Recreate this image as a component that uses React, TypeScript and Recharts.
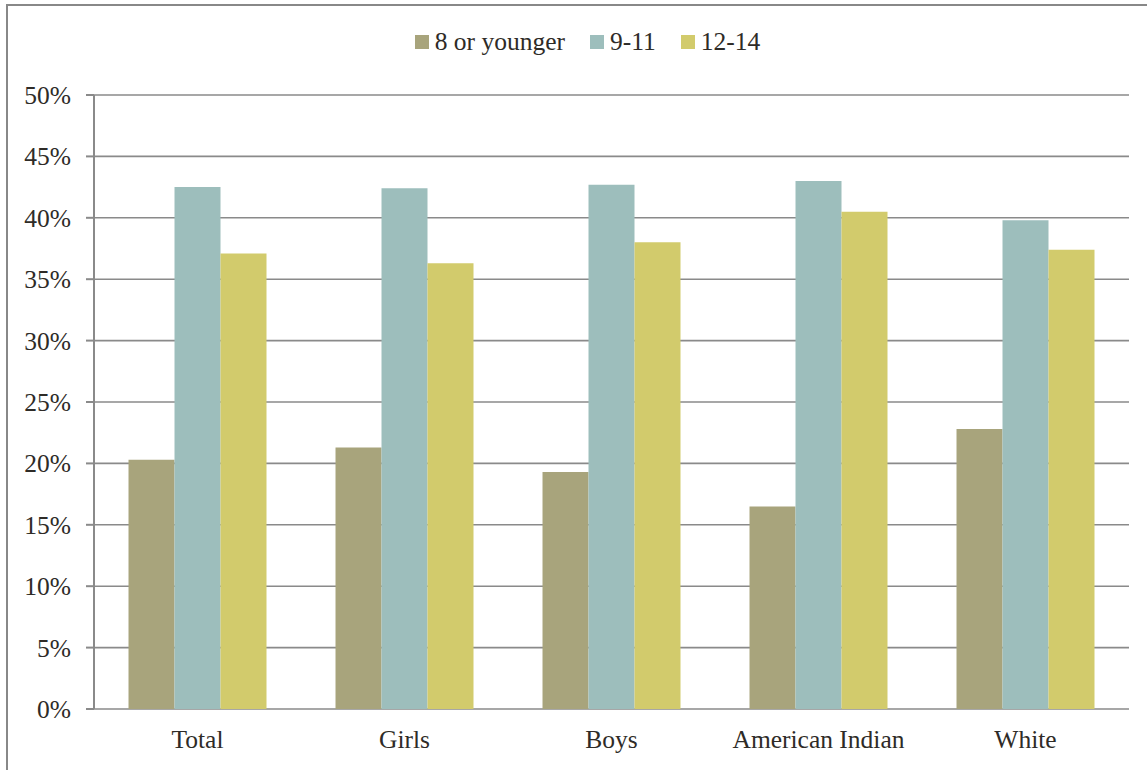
import React from "react";
import { BarChart, Bar, XAxis, YAxis, CartesianGrid, Legend } from "recharts";

const categories = ["Total", "Girls", "Boys", "American Indian", "White"];
const age8OrYounger = [20.3, 21.3, 19.3, 16.5, 22.8];
const age9to11 = [42.5, 42.4, 42.7, 43.0, 39.8];
const age12to14 = [37.1, 36.3, 38.0, 40.5, 37.4];
const yTicks = [0, 5, 10, 15, 20, 25, 30, 35, 40, 45, 50];
const boundaryTicks = [0, 1, 2, 3, 4, 5];

const seriesNames = ["8 or younger", "9-11", "12-14"];
const colors = ["#A8A47C", "#9DBEBC", "#D2CB6C"];

const data = categories.map((c, i) => ({
  name: c,
  a: age8OrYounger[i],
  b: age9to11[i],
  c: age12to14[i],
}));

const FONT = "'Liberation Serif', 'Times New Roman', serif";
const TEXT = "#2e2b27";
const GRID = "#8a8a8a";
const FS = 25.5;

const renderLegend = (props: any) => {
  const payload = [...(props.payload || [])].sort(
    (p: any, q: any) => seriesNames.indexOf(p.value) - seriesNames.indexOf(q.value)
  );
  return (
    <div style={{ display: "flex", justifyContent: "center", gap: 25, paddingLeft: 28, fontFamily: FONT, fontSize: FS, color: TEXT, lineHeight: "30px" }}>
      {payload.map((p: any, i: number) => (
        <div key={i} style={{ display: "flex", alignItems: "center" }}>
          <span style={{ display: "inline-block", width: 14, height: 14, background: p.color, marginRight: 6 }} />
          <span>{p.value}</span>
        </div>
      ))}
    </div>
  );
};

export default function App() {
  return (
    <div style={{ position: "absolute", left: 0, top: 0, width: 1147, height: 770, overflow: "hidden", background: "#fff" }}>
      <div style={{ position: "absolute", left: 6, top: 4, width: 1200, height: 820, border: "2px solid #888", boxSizing: "border-box" }} />
      <div style={{ position: "absolute", left: 0, top: 0 }}>
        <BarChart
          width={1147}
          height={770}
          data={data}
          margin={{ top: 95, right: 18, bottom: 16, left: 0 }}
          barCategoryGap="16.67%"
          barGap={0}
        >
          <CartesianGrid vertical={false} stroke={GRID} strokeWidth={1.6} />
          <XAxis
            xAxisId="bound"
            type="number"
            domain={[0, 5]}
            ticks={boundaryTicks}
            tick={false}
            height={0}
            axisLine={{ stroke: GRID, strokeWidth: 2 }}
            tickLine={{ stroke: GRID, strokeWidth: 2 }}
            tickSize={8}
          />
          <XAxis
            xAxisId="cat"
            dataKey="name"
            height={45}
            axisLine={false}
            tickLine={false}
            tickSize={8}
            tickMargin={13}
            interval={0}
            tick={{ fill: TEXT, fontFamily: FONT, fontSize: FS }}
          />
          <YAxis
            width={94}
            domain={[0, 50]}
            ticks={yTicks}
            tickFormatter={(v: number) => `${v}%`}
            axisLine={{ stroke: GRID, strokeWidth: 2 }}
            tickLine={{ stroke: GRID, strokeWidth: 2 }}
            tickSize={8}
            tickMargin={15}
            tick={{ fill: TEXT, fontFamily: FONT, fontSize: FS }}
          />
          <Legend verticalAlign="middle" wrapperStyle={{ top: 27, left: 0, width: 1147 }} content={renderLegend} />
          <Bar xAxisId="cat" dataKey="a" name={seriesNames[0]} fill={colors[0]} isAnimationActive={false} />
          <Bar xAxisId="cat" dataKey="b" name={seriesNames[1]} fill={colors[1]} isAnimationActive={false} />
          <Bar xAxisId="cat" dataKey="c" name={seriesNames[2]} fill={colors[2]} isAnimationActive={false} />
        </BarChart>
      </div>
    </div>
  );
}
